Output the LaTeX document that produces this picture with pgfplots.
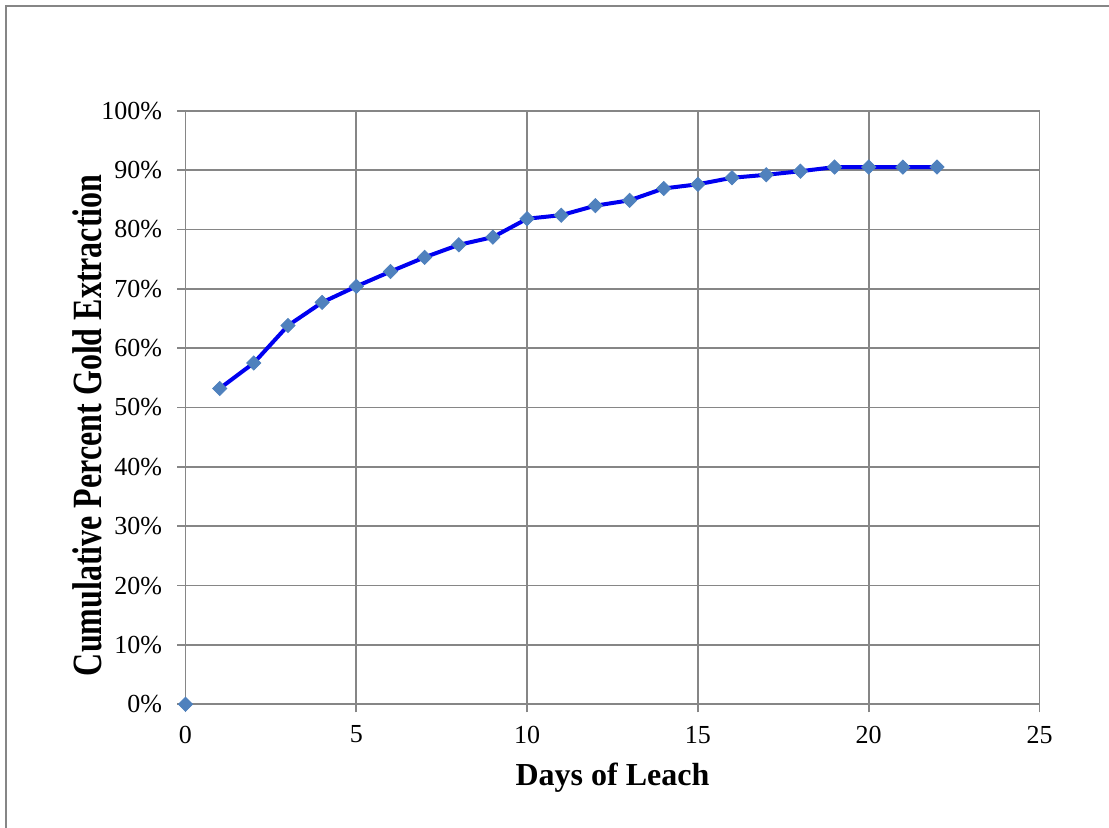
\documentclass[border=0pt]{standalone}
\usepackage{fontspec}
\setmainfont{Liberation Serif}
\usepackage{pgfplots}
\usepackage{pgfplotstable}
\pgfplotsset{compat=1.18}

\definecolor{gridgray}{HTML}{868686}
\definecolor{markblue}{HTML}{4F81BD}
\definecolor{lineblue}{HTML}{0000F0}

% day, cumulative gold extraction (%)
\pgfplotstableread{
day ext
0  0
1  53.2
2  57.5
3  63.8
4  67.7
5  70.4
6  72.9
7  75.3
8  77.4
9  78.7
10 81.8
11 82.4
12 84.0
13 84.9
14 86.9
15 87.6
16 88.7
17 89.2
18 89.8
19 90.5
20 90.5
21 90.5
22 90.5
}\leach

\begin{document}
\begin{tikzpicture}
\useasboundingbox (-92.75pt,-61.85pt) rectangle (461.75pt,352.15pt);
\draw[gridgray, line width=1.3pt] (-89.75pt,-61.85pt) -- (-89.75pt,349.15pt) -- (461.75pt,349.15pt);
\begin{axis}[
  at={(0,0)}, anchor=origin,
  scale only axis,
  width=427pt, height=296.8pt,
  xmin=0, xmax=25, ymin=0, ymax=100,
  xtick={0,5,...,25},
  ytick={0,10,...,100},
  yticklabel={\pgfmathprintnumber{\tick}\%},
  /pgf/number format/assume math mode=true,
  grid=major,
  major grid style={gridgray, line width=0.9pt},
  axis line style={gridgray, line width=0.9pt},
  xtick pos=bottom, ytick pos=left,
  tick align=outside,
  major tick length=4pt,
  tick style={gridgray, line width=0.9pt},
  ticklabel style={font=\fontsize{13}{15}\selectfont},
  yticklabel style={anchor=east, xshift=-4.2pt},
  xticklabel style={anchor=north, yshift=-3.3pt},
  xlabel={Days of Leach},
  ylabel={Cumulative Percent Gold Extraction},
  xlabel style={font=\fontsize{16}{19}\selectfont\bfseries, at={(axis description cs:0.5,-0.136)}, anchor=base},
  ylabel style={font=\fontsize{16}{19}\selectfont\bfseries, at={(axis description cs:-0.098,0.47)}, anchor=base, yscale=1.3},
  clip=false,
]
\addplot[only marks, mark=square*, mark size=2.5pt, mark options={rotate=45, fill=markblue, draw=markblue}] table[x=day, y=ext] {\leach};
\addplot[lineblue, line width=2pt, no marks, restrict x to domain=1:22] table[x=day, y=ext] {\leach};
\end{axis}
\end{tikzpicture}
\end{document}
